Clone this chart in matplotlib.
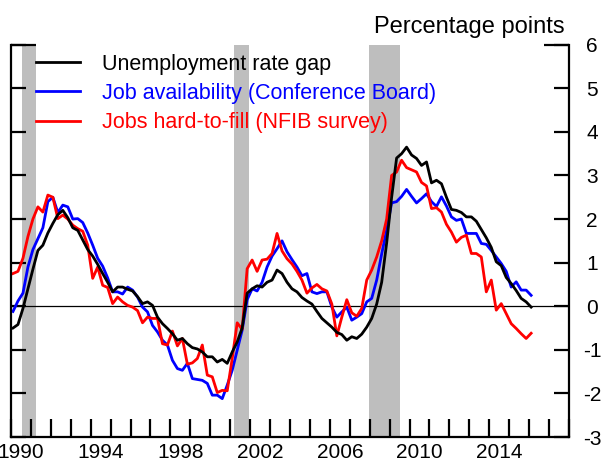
import numpy as np
import pandas as pd
import matplotlib
matplotlib.use("Agg")
import matplotlib.pyplot as plt

plt.rcParams['font.family'] = ['Liberation Sans', 'DejaVu Sans']
plt.rcParams['axes.unicode_minus'] = False

# quarterly data, 1990Q1 - 2016Q1 (percentage points)
quarters = pd.period_range("1990Q1", "2016Q1", freq="Q")

unemp_gap = [
    -0.5, -0.42, -0.05, 0.4, 0.85, 1.28, 1.4, 1.68, 1.9, 2.1,
    2.2, 2.03, 1.8, 1.74, 1.52, 1.3, 1.15, 0.96, 0.75, 0.55,
    0.33, 0.44, 0.44, 0.39, 0.35, 0.22, 0.06, 0.1, 0.02, -0.25,
    -0.4, -0.51, -0.63, -0.78, -0.74, -0.86, -0.95, -0.98, -1.05, -1.16,
    -1.16, -1.28, -1.22, -1.31, -1.05, -0.82, -0.5, 0.3, 0.4, 0.47,
    0.44, 0.55, 0.6, 0.83, 0.75, 0.55, 0.4, 0.33, 0.2, 0.12,
    0.05, -0.12, -0.28, -0.38, -0.48, -0.6, -0.65, -0.78, -0.7, -0.74,
    -0.64, -0.48, -0.28, 0.05, 0.55, 1.45, 2.5, 3.4, 3.5, 3.65,
    3.47, 3.39, 3.23, 3.31, 2.83, 2.89, 2.81, 2.5, 2.22, 2.2,
    2.15, 2.05, 2.05, 1.95, 1.76, 1.57, 1.35, 1.02, 0.93, 0.66,
    0.52, 0.36, 0.18, 0.1, -0.02,
]

job_avail = [
    -0.12, 0.12, 0.3, 0.9, 1.3, 1.55, 1.8, 2.4, 2.5, 2.15,
    2.32, 2.28, 2.0, 2.01, 1.92, 1.68, 1.4, 1.1, 0.92, 0.65,
    0.33, 0.33, 0.28, 0.44, 0.37, 0.21, -0.02, -0.13, -0.44, -0.59,
    -0.78, -0.89, -1.24, -1.43, -1.47, -1.31, -1.66, -1.68, -1.7, -1.77,
    -2.04, -2.04, -2.12, -1.81, -1.47, -1.01, -0.55, 0.15, 0.4, 0.35,
    0.55, 0.9, 1.15, 1.32, 1.5, 1.25, 1.07, 0.9, 0.7, 0.75,
    0.33, 0.29, 0.33, 0.33, -0.02, -0.25, -0.13, -0.02, -0.32, -0.25,
    -0.17, 0.1, 0.18, 0.6, 1.2, 1.75, 2.37, 2.4, 2.52, 2.68,
    2.52, 2.37, 2.47, 2.58, 2.4, 2.29, 2.51, 2.3, 2.05, 1.97,
    2.0, 1.67, 1.67, 1.67, 1.44, 1.42, 1.28, 1.13, 0.98, 0.8,
    0.44, 0.56, 0.37, 0.37, 0.25,
]

hard_to_fill = [
    0.75, 0.8, 1.1, 1.6, 2.0, 2.28, 2.16, 2.55, 2.5, 2.01,
    2.09, 2.0, 1.86, 1.78, 1.72, 1.4, 0.64, 0.9, 0.48, 0.43,
    0.06, 0.21, 0.1, 0.02, -0.02, -0.1, -0.38, -0.25, -0.28, -0.28,
    -0.86, -0.89, -0.57, -0.91, -0.74, -1.33, -1.3, -1.2, -0.89, -1.58,
    -1.62, -1.98, -1.93, -1.94, -1.2, -0.38, -0.53, 0.86, 1.06, 0.8,
    1.06, 1.08, 1.21, 1.67, 1.27, 1.09, 0.97, 0.8, 0.6, 0.3,
    0.42, 0.5, 0.4, 0.35, 0.05, -0.68, -0.25, 0.15, -0.15, -0.23,
    -0.05, 0.6, 0.83, 1.13, 1.5, 2.0, 3.0, 3.08, 3.35, 3.18,
    3.13, 3.08, 2.84, 2.76, 2.24, 2.26, 2.16, 1.88, 1.7, 1.47,
    1.58, 1.63, 1.21, 1.21, 1.13, 0.33, 0.6, -0.09, 0.06, -0.17,
    -0.4, -0.51, -0.63, -0.74, -0.62,
]

# NBER recessions (decimal years)
recessions = [(1990.54, 1991.25), (2001.2, 2001.93), (2007.94, 2009.53)]

year_labels = [1990, 1994, 1998, 2002, 2006, 2010, 2014]

t = quarters.year + (quarters.quarter - 1) / 4 + 0.1

fig = plt.figure(figsize=(6.05, 4.61), dpi=100)
ax = fig.add_axes([11 / 605, 1 - 437 / 461, 558 / 605, 392.3 / 461])

for start, end in recessions:
    ax.axvspan(start, end, color='#bebebe', lw=0, zorder=0)

ax.axhline(0, color='black', lw=0.9, zorder=1)

ax.plot(t, unemp_gap, color='black', lw=2, label='Unemployment rate gap', zorder=3)
ax.plot(t, job_avail, color='#0000ff', lw=2, label='Job availability (Conference Board)', zorder=2)
ax.plot(t, hard_to_fill, color='#ff0000', lw=2, label='Jobs hard-to-fill (NFIB survey)', zorder=2)

ax.set_xlim(1990, 2018)
ax.set_ylim(-3, 6)

# axis styling
for side in ['left', 'right', 'bottom']:
    ax.spines[side].set_linewidth(1.6)
ax.spines['top'].set_visible(False)

ax.set_yticks(range(-3, 7))
ax.yaxis.set_ticks_position('both')
ax.tick_params(axis='y', direction='in', length=11, width=1.6,
               labelleft=False, labelright=True, labelsize=15, pad=16.5)
for lbl in ax.get_yticklabels():
    lbl.set_horizontalalignment('center')

ax.set_xticks(range(1990, 2019))
ax.set_xticklabels([])
ax.set_xticks([y + 0.5 for y in year_labels], minor=True)
ax.set_xticklabels([str(y) for y in year_labels], minor=True)
ax.tick_params(axis='x', which='major', direction='in', length=13, width=1.6)
ax.tick_params(axis='x', which='minor', length=0, labelsize=15, pad=4)

# short caps at the top of both vertical axes
cap = 25 / 558
ax.plot([0, cap], [1, 1], transform=ax.transAxes, color='black', lw=1.6,
        clip_on=False, solid_capstyle='butt')
ax.plot([1 - cap, 1], [1, 1], transform=ax.transAxes, color='black', lw=1.6,
        clip_on=False, solid_capstyle='butt')

ax.text(0.993, 1.030, 'Percentage points', transform=ax.transAxes,
        ha='right', va='baseline', fontsize=17)

leg = ax.legend(loc='upper left', bbox_to_anchor=(25 / 558, 0.977), frameon=False,
                fontsize=15.5, handlelength=2.05, handletextpad=1.0,
                labelspacing=0.38, borderpad=0, borderaxespad=0,
                labelcolor='linecolor')

fig.savefig('out.png', dpi=100)
